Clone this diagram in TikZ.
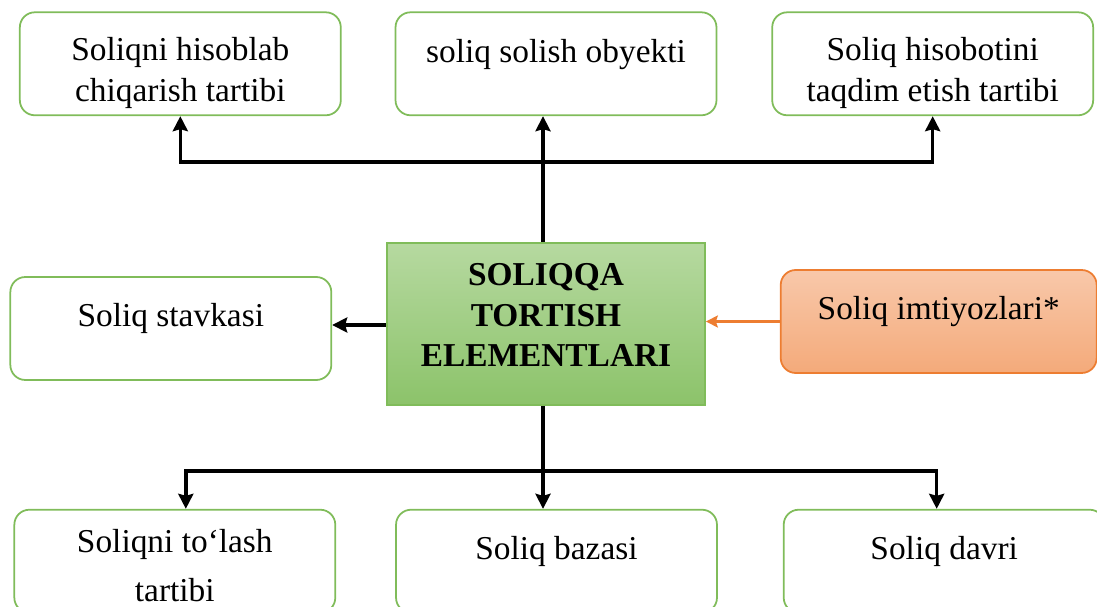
\documentclass[tikz,border=0pt]{standalone}
\usepackage{fontspec}
\setmainfont{Liberation Serif}
\usetikzlibrary{arrows.meta, positioning, calc}
\definecolor{boxgreen}{RGB}{128,188,90}
\definecolor{coretop}{RGB}{182,217,160}
\definecolor{corebot}{RGB}{140,195,106}
\definecolor{bentop}{RGB}{248,200,170}
\definecolor{benbot}{RGB}{244,170,122}
\definecolor{benline}{RGB}{237,125,49}
\newcommand{\tallstrut}[1]{\rule{0pt}{#1}}
\tikzset{
  elem/.style={rectangle, draw=boxgreen, line width=1pt, fill=white,
               rounded corners=0.3cm, minimum width=6.42cm, minimum height=2.06cm,
               align=center, font=\fontsize{19}{23}\selectfont},
  raised/.style={text depth=15pt},
  coreblock/.style={rectangle, draw=boxgreen, line width=1pt,
                    top color=coretop, bottom color=corebot,
                    minimum width=6.36cm, minimum height=3.24cm, align=center,
                    text depth=10pt, font=\fontsize{19}{23}\selectfont\bfseries},
  benblock/.style={elem, draw=benline, top color=bentop, bottom color=benbot,
                   minimum width=6.32cm},
  arrow/.style={-{Stealth[length=0.3cm, width=0.3cm, inset=0.04cm]},
                line width=2pt, draw=black},
  benarrow/.style={-{Stealth[length=0.24cm, width=0.24cm, inset=0.04cm]},
                   line width=1.3pt, draw=benline},
}

\begin{document}
\begin{tikzpicture}[x=0.02cm, y=-0.02cm]
  \useasboundingbox (0,0) rectangle (1097,607);
  \clip (0,0) rectangle (1097,607);

  % --- Nodes ---
  \node[coreblock] (core) at (546,324) {SOLIQQA\\TORTISH\\ELEMENTLARI};

  \node[elem, raised, above=2.52cm of core, xshift=0.2cm] (obj) {soliq solish obyekti};
  \node[elem, left=1.06cm of obj] (calc)
    {\tallstrut{23.5pt}Soliqni hisoblab\\chiqarish tartibi};
  \node[elem, right=1.08cm of obj] (report)
    {\tallstrut{23.5pt}Soliq hisobotini\\taqdim etish tartibi};

  \node[elem, raised, left=1.08cm of core, yshift=-0.09cm] (rate) {Soliq stavkasi};
  \node[benblock, raised, right=1.48cm of core, yshift=0.05cm] (ben) {Soliq imtiyozlari*};

  \node[elem, raised, below=2.06cm of core, xshift=0.21cm] (base) {Soliq bazasi};
  \node[elem, left=1.18cm of base] (pay)
    {\tallstrut{18pt}Soliqni to‘lash\\[5pt]tartibi};
  \node[elem, raised, right=1.3cm of base] (period) {Soliq davri};

  \coordinate (ctop) at ([xshift=-0.06cm]core.north);
  \coordinate (cbot) at ([xshift=-0.06cm]core.south);
  \coordinate (cleft) at ([yshift=-0.02cm]core.west);
  \coordinate[above=1.6cm of ctop] (tbus);
  \coordinate[below=1.3cm of cbot] (bbus);

  % --- Edges ---
  \draw[arrow] (ctop) -- (ctop |- obj.south);
  \draw[arrow] (tbus) -| (calc.south);
  \draw[arrow] (tbus) -| (report.south);
  \draw[arrow] (cleft) -- (rate.east |- cleft);
  \draw[benarrow] (ben.west) -- (core.east |- ben.west);
  \draw[arrow] (cbot) -- (cbot |- base.north);
  \draw[arrow] (bbus) -| ([xshift=0.22cm]pay.north);
  \draw[arrow] (bbus) -| ([xshift=-0.15cm]period.north);

\end{tikzpicture}
\end{document}
